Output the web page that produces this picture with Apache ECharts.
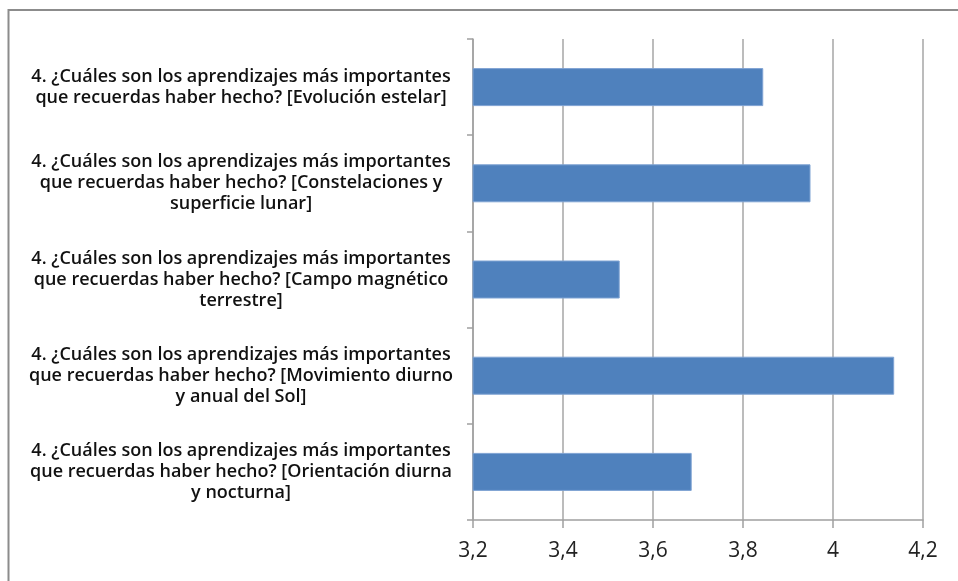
<!DOCTYPE html>
<html>
<head>
<meta charset="utf-8">
<script src="https://cdn.jsdelivr.net/npm/echarts@6/dist/echarts.min.js"></script>
<style>
  html, body { margin: 0; padding: 0; background: #fff; }
  #chart { width: 958px; height: 581px; }
</style>
</head>
<body>
<div id="chart"></div>
<script>
// Survey topics (top to bottom) and their mean scores
const categories = [
  '4. ¿Cuáles son los aprendizajes más importantes\nque recuerdas haber hecho? [Evolución estelar]',
  '4. ¿Cuáles son los aprendizajes más importantes\nque recuerdas haber hecho? [Constelaciones y\nsuperficie lunar]',
  '4. ¿Cuáles son los aprendizajes más importantes\nque recuerdas haber hecho? [Campo magnético\nterrestre]',
  '4. ¿Cuáles son los aprendizajes más importantes\nque recuerdas haber hecho? [Movimiento diurno\ny anual del Sol]',
  '4. ¿Cuáles son los aprendizajes más importantes\nque recuerdas haber hecho? [Orientación diurna\ny nocturna]'
];
const scores = [3.845, 3.95, 3.526, 4.136, 3.686];

// Value axis ticks
const tickValues = [3.2, 3.4, 3.6, 3.8, 4.0, 4.2];
const tickLabels = ['3,2', '3,4', '3,6', '3,8', '4', '4,2'];

const chart = echarts.init(document.getElementById('chart'), null, { renderer: 'canvas' });

chart.setOption({
  animation: false,
  backgroundColor: '#ffffff',
  graphic: [{
    type: 'rect',
    shape: { x: 8.5, y: 10, width: 980, height: 600 },
    style: { fill: 'none', stroke: '#8c8c8c', lineWidth: 2 },
    silent: true,
    z: -1
  }],
  grid: { left: 473, right: 35, top: 39, bottom: 61, containLabel: false },
  xAxis: {
    type: 'value',
    min: tickValues[0],
    max: tickValues[tickValues.length - 1],
    interval: 0.2,
    axisLine: { show: true, lineStyle: { color: '#a0a0a0', width: 1.5 } },
    axisTick: { show: true, length: 8, lineStyle: { color: '#a0a0a0', width: 1.5 } },
    splitLine: { show: true, lineStyle: { color: '#a6a6a6', width: 1.5 } },
    axisLabel: {
      margin: 21,
      fontSize: 21,
      color: '#222',
      fontFamily: 'Open Sans, sans-serif',
      formatter: function (v) {
        const i = tickValues.findIndex(t => Math.abs(t - v) < 1e-6);
        return i >= 0 ? tickLabels[i] : '';
      }
    }
  },
  yAxis: {
    type: 'category',
    data: categories,
    inverse: true,
    axisLine: { show: true, lineStyle: { color: '#a0a0a0', width: 1.5 } },
    axisTick: { show: true, length: 6, lineStyle: { color: '#a0a0a0', width: 1.5 } },
    axisLabel: {
      margin: 232,
      align: 'center',
      fontSize: 18,
      lineHeight: 21,
      color: '#111',
      fontFamily: 'Open Sans, sans-serif',
      fontWeight: 600
    }
  },
  series: [{
    type: 'bar',
    data: scores,
    barWidth: 38,
    itemStyle: { color: '#4f81bd', borderColor: '#7fa3d3', borderWidth: 1 }
  }]
});
</script>
</body>
</html>
